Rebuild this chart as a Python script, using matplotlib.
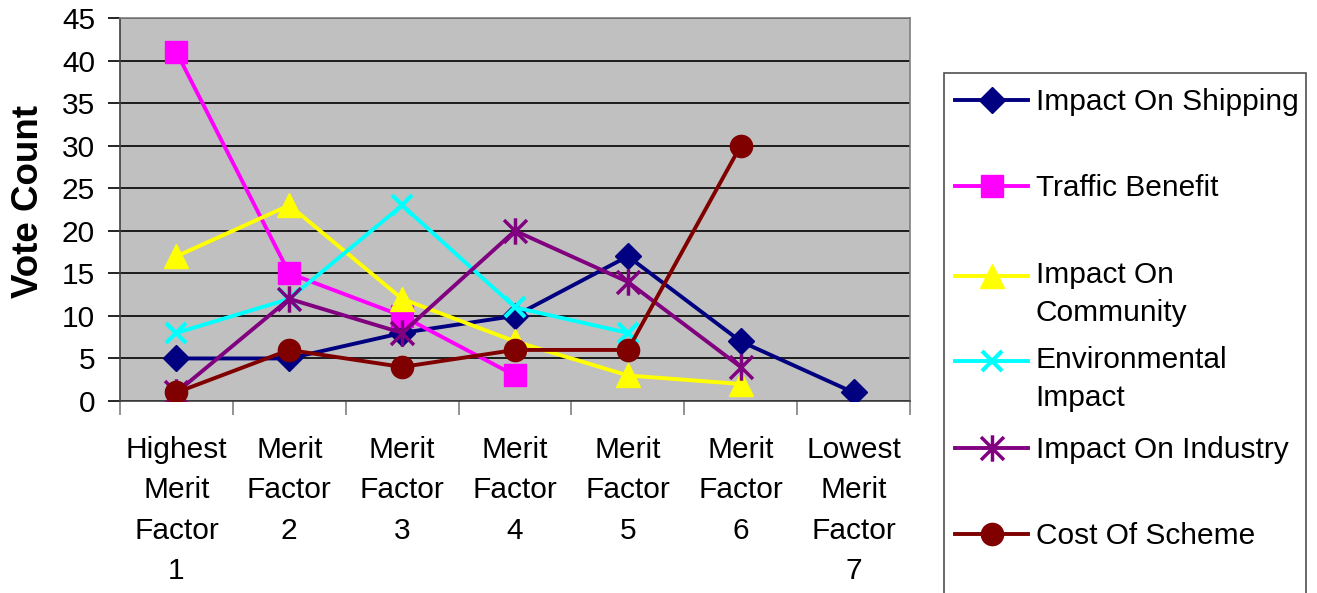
import matplotlib
matplotlib.use("Agg")
import matplotlib.pyplot as plt
from matplotlib.path import Path
from matplotlib.patches import Rectangle
from matplotlib.legend_handler import HandlerLine2D
import numpy as np

plt.rcParams['font.family'] = ['Liberation Sans', 'DejaVu Sans']

categories = ["Highest\nMerit\nFactor\n1", "Merit\nFactor\n2", "Merit\nFactor\n3",
              "Merit\nFactor\n4", "Merit\nFactor\n5", "Merit\nFactor\n6",
              "Lowest\nMerit\nFactor\n7"]

impact_on_shipping = [5, 5, 8, 10, 17, 7, 1]
traffic_benefit = [41, 15, 10, 3]
impact_on_community = [17, 23, 12, 7, 3, 2]
environmental_impact = [8, 12, 23, 11, 8]
impact_on_industry = [1, 12, 8, 20, 14, 4]
cost_of_scheme = [1, 6, 4, 6, 6, 30]

series_names = ["Impact On Shipping", "Traffic Benefit", "Impact On\nCommunity",
                "Environmental\nImpact", "Impact On Industry", "Cost Of Scheme"]
series_values = [impact_on_shipping, traffic_benefit, impact_on_community,
                 environmental_impact, impact_on_industry, cost_of_scheme]

yticks = [0, 5, 10, 15, 20, 25, 30, 35, 40, 45]

star = Path([(-1, -1), (1, 1), (-1, 1), (1, -1), (0, -1.15), (0, 1.15)],
            [Path.MOVETO, Path.LINETO, Path.MOVETO, Path.LINETO, Path.MOVETO, Path.LINETO])

styles = [
    dict(color="#000080", marker="D", ms=13),
    dict(color="#FF00FF", marker="s", ms=16),
    dict(color="#FFFF00", marker="^", ms=17),
    dict(color="#00FFFF", marker="x", ms=14, mew=3),
    dict(color="#800080", marker=star, ms=19, mew=2.5),
    dict(color="#800000", marker="o", ms=16),
]

FS = 21.5
W, H = 1317, 593
fig = plt.figure(figsize=(W / 100, H / 100), dpi=100)
ax = fig.add_axes([120 / W, 1 - 401 / H, 790 / W, 383 / H])
ax.set_facecolor("#C0C0C0")

handles = []
for name, vals, st in zip(series_names, series_values, styles):
    x = np.arange(len(vals))
    h, = ax.plot(x, vals, lw=2.8, label=name, color=st["color"], marker=st["marker"],
                 ms=st["ms"], mew=st.get("mew", 1), mfc=st["color"], mec=st["color"], zorder=3)
    handles.append(h)

ax.set_xlim(-0.5, len(categories) - 0.5)
ax.set_ylim(0, 45)
ax.set_yticks(yticks)
ax.yaxis.grid(True, color="black", lw=1.2)
ax.set_axisbelow(True)

ax.set_xticks(np.arange(len(categories) + 1) - 0.5)
ax.set_xticklabels([])
ax.set_xticks(np.arange(len(categories)), minor=True)
ax.set_xticklabels(categories, minor=True, fontsize=FS, linespacing=1.57, va="top")
ax.tick_params(axis="x", which="major", length=10, width=1.2, color="#808080", direction="out")
ax.tick_params(axis="x", which="minor", length=0, pad=25)
ax.tick_params(axis="y", length=9, width=1.2, labelsize=FS, pad=9)

for s in ["top", "right"]:
    ax.spines[s].set_color("#808080")
    ax.spines[s].set_linewidth(1.2)
for s in ["left", "bottom"]:
    ax.spines[s].set_color("#404040")
    ax.spines[s].set_linewidth(1.2)

ax.set_ylabel("Vote Count", fontsize=26.5, fontweight="bold", va="center")
ax.yaxis.set_label_coords(-0.1158, 0.522)


class TopLineHandler(HandlerLine2D):
    def __init__(self, dy, **kw):
        super().__init__(**kw)
        self.dy = dy

    def create_artists(self, legend, orig_handle, xdescent, ydescent, width, height, fontsize, trans):
        arts = super().create_artists(legend, orig_handle, xdescent, ydescent, width, height,
                                      fontsize, trans)
        for a in arts:
            a.set_ydata(np.asarray(a.get_ydata(), dtype=float) + self.dy)
        return arts


# legend layout (pixel rows of each entry's handle)
legend_rows = [102, 188, 275, 360, 450, 536]
half_line = 19  # px, half the spacing of two text lines
for h, name, row in zip(handles, series_names, legend_rows):
    multi = "\n" in name
    yc = row + (half_line if multi else 0)
    kw = {}
    if multi:
        kw["handler_map"] = {h: TopLineHandler(dy=half_line * 0.72)}
    leg = fig.legend(handles=[h], labels=[name], loc="center left",
                     bbox_to_anchor=(955 / W, 1 - yc / H), fontsize=FS, frameon=False,
                     handlelength=2.45, handletextpad=0.25, borderpad=0, borderaxespad=0, **kw)
    for t in leg.get_texts():
        t.set_linespacing(1.41)

fig.add_artist(Rectangle((944 / W, -0.02), (1306 - 944) / W, 1 - 73 / H + 0.02,
                         transform=fig.transFigure, fill=False, ec="#505050", lw=1.2))

fig.savefig("out.png", dpi=100, facecolor="white")
